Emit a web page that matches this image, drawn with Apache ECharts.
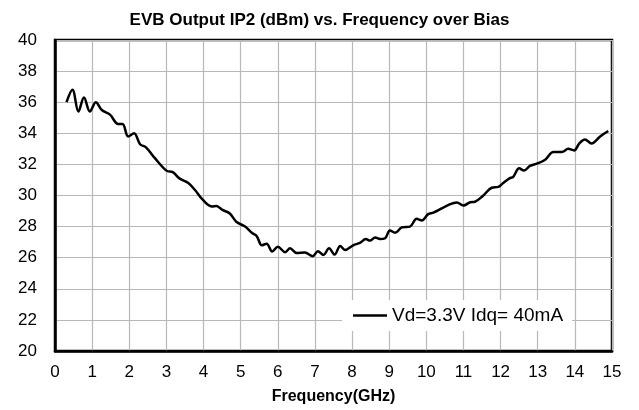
<!DOCTYPE html>
<html>
<head>
<meta charset="utf-8">
<script src="https://cdn.jsdelivr.net/npm/echarts@6/dist/echarts.min.js"></script>
<style>
    html, body { margin: 0; padding: 0; background: #fff; }
    #chart { width: 639px; height: 410px; }
</style>
</head>
<body>
<div id="chart"></div>
<script>
    // 频率 (GHz)
    var freq = [0.31, 0.47, 0.63, 0.78, 0.94, 1.10, 1.26, 1.48, 1.70, 1.82, 1.97, 2.13, 2.29, 2.45, 2.69,
        3.00, 3.17, 3.35, 3.59, 3.77, 3.97, 4.22, 4.35, 4.51, 4.70, 4.89, 5.12, 5.30, 5.43, 5.57,
        5.70, 5.85, 6.00, 6.20, 6.33, 6.51, 6.73, 6.94, 7.08, 7.23, 7.38, 7.53, 7.68, 7.81, 8.03,
        8.21, 8.37, 8.48, 8.62, 8.75, 8.89, 9.02, 9.16, 9.34, 9.56, 9.74, 9.88, 10.05, 10.19, 10.40,
        10.60, 10.82, 11.00, 11.18, 11.31, 11.52, 11.76, 11.94, 12.07, 12.24, 12.34, 12.50, 12.63,
        12.79, 12.99, 13.20, 13.42, 13.65, 13.82, 13.98, 14.12, 14.27, 14.45, 14.68, 14.90];
    // IP2 (dBm), Vd=3.3V Idq=40mA
    var ip2 = [36.0, 36.8, 35.4, 36.3, 35.4, 36.0, 35.5, 35.2, 34.6, 34.6, 33.8, 34.0, 33.3, 33.1, 32.4,
        31.6, 31.5, 31.1, 30.8, 30.35, 29.75, 29.3, 29.33, 29.07, 28.86, 28.3, 28.0, 27.6, 27.4, 26.8,
        26.9, 26.4, 26.7, 26.35, 26.6, 26.3, 26.33, 26.1, 26.42, 26.18, 26.6, 26.2, 26.75, 26.5, 26.8,
        26.95, 27.2, 27.1, 27.3, 27.2, 27.25, 27.75, 27.6, 27.95, 28.0, 28.5, 28.4, 28.8, 28.9, 29.15,
        29.4, 29.55, 29.35, 29.57, 29.6, 29.97, 30.5, 30.55, 30.8, 31.1, 31.2, 31.75, 31.6,
        31.9, 32.06, 32.3, 32.8, 32.8, 33.0, 32.9, 33.35, 33.6, 33.35, 33.8, 34.15];
    var seriesName = 'Vd=3.3V Idq= 40mA';

    var font = 'Liberation Sans, Arial, sans-serif';
    var gridColor = '#b8b8b8';

    var points = freq.map(function(f, i) { return [f, ip2[i]]; });

    var myChart = echarts.init(document.getElementById('chart'));
    myChart.setOption({
        animation: false,
        backgroundColor: '#fff',
        title: {
            text: 'EVB Output IP2 (dBm) vs. Frequency over Bias',
            left: 'center',
            top: 7,
            textStyle: { fontFamily: font, fontSize: 17, fontWeight: 'bold', color: '#000' }
        },
        legend: {
            data: [seriesName],
            left: 342,
            top: 300,
            backgroundColor: '#fff',
            padding: [6, 9, 6, 11],
            icon: 'rect',
            itemWidth: 34,
            itemHeight: 2.5,
            textStyle: { fontFamily: font, fontSize: 19, color: '#000' }
        },
        grid: {
            left: 55,
            right: 27,
            top: 40,
            bottom: 59,
            show: true,
            borderColor: '#000',
            borderWidth: 2.5
        },
        xAxis: {
            type: 'value',
            min: 0,
            max: 15,
            interval: 1,
            name: 'Frequency(GHz)',
            nameLocation: 'middle',
            nameGap: 38,
            nameTextStyle: { fontFamily: font, fontSize: 16, fontWeight: 'bold', color: '#000' },
            axisLine: { lineStyle: { color: '#000', width: 2.5 } },
            axisTick: { show: false },
            axisLabel: { fontFamily: font, fontSize: 17, color: '#000', margin: 13 },
            splitLine: { lineStyle: { color: gridColor, width: 1.2 } }
        },
        yAxis: {
            type: 'value',
            min: 20,
            max: 40,
            interval: 2,
            axisLine: { show: true, lineStyle: { color: '#000', width: 2.5 } },
            axisTick: { show: false },
            axisLabel: { fontFamily: font, fontSize: 17, color: '#000', margin: 18 },
            splitLine: { lineStyle: { color: gridColor, width: 1.2 } }
        },
        series: [{
            name: seriesName,
            type: 'line',
            data: points,
            smooth: 0.35,
            showSymbol: false,
            itemStyle: { color: '#000' },
            lineStyle: { color: '#000', width: 2.5 }
        }]
    });
</script>
</body>
</html>
